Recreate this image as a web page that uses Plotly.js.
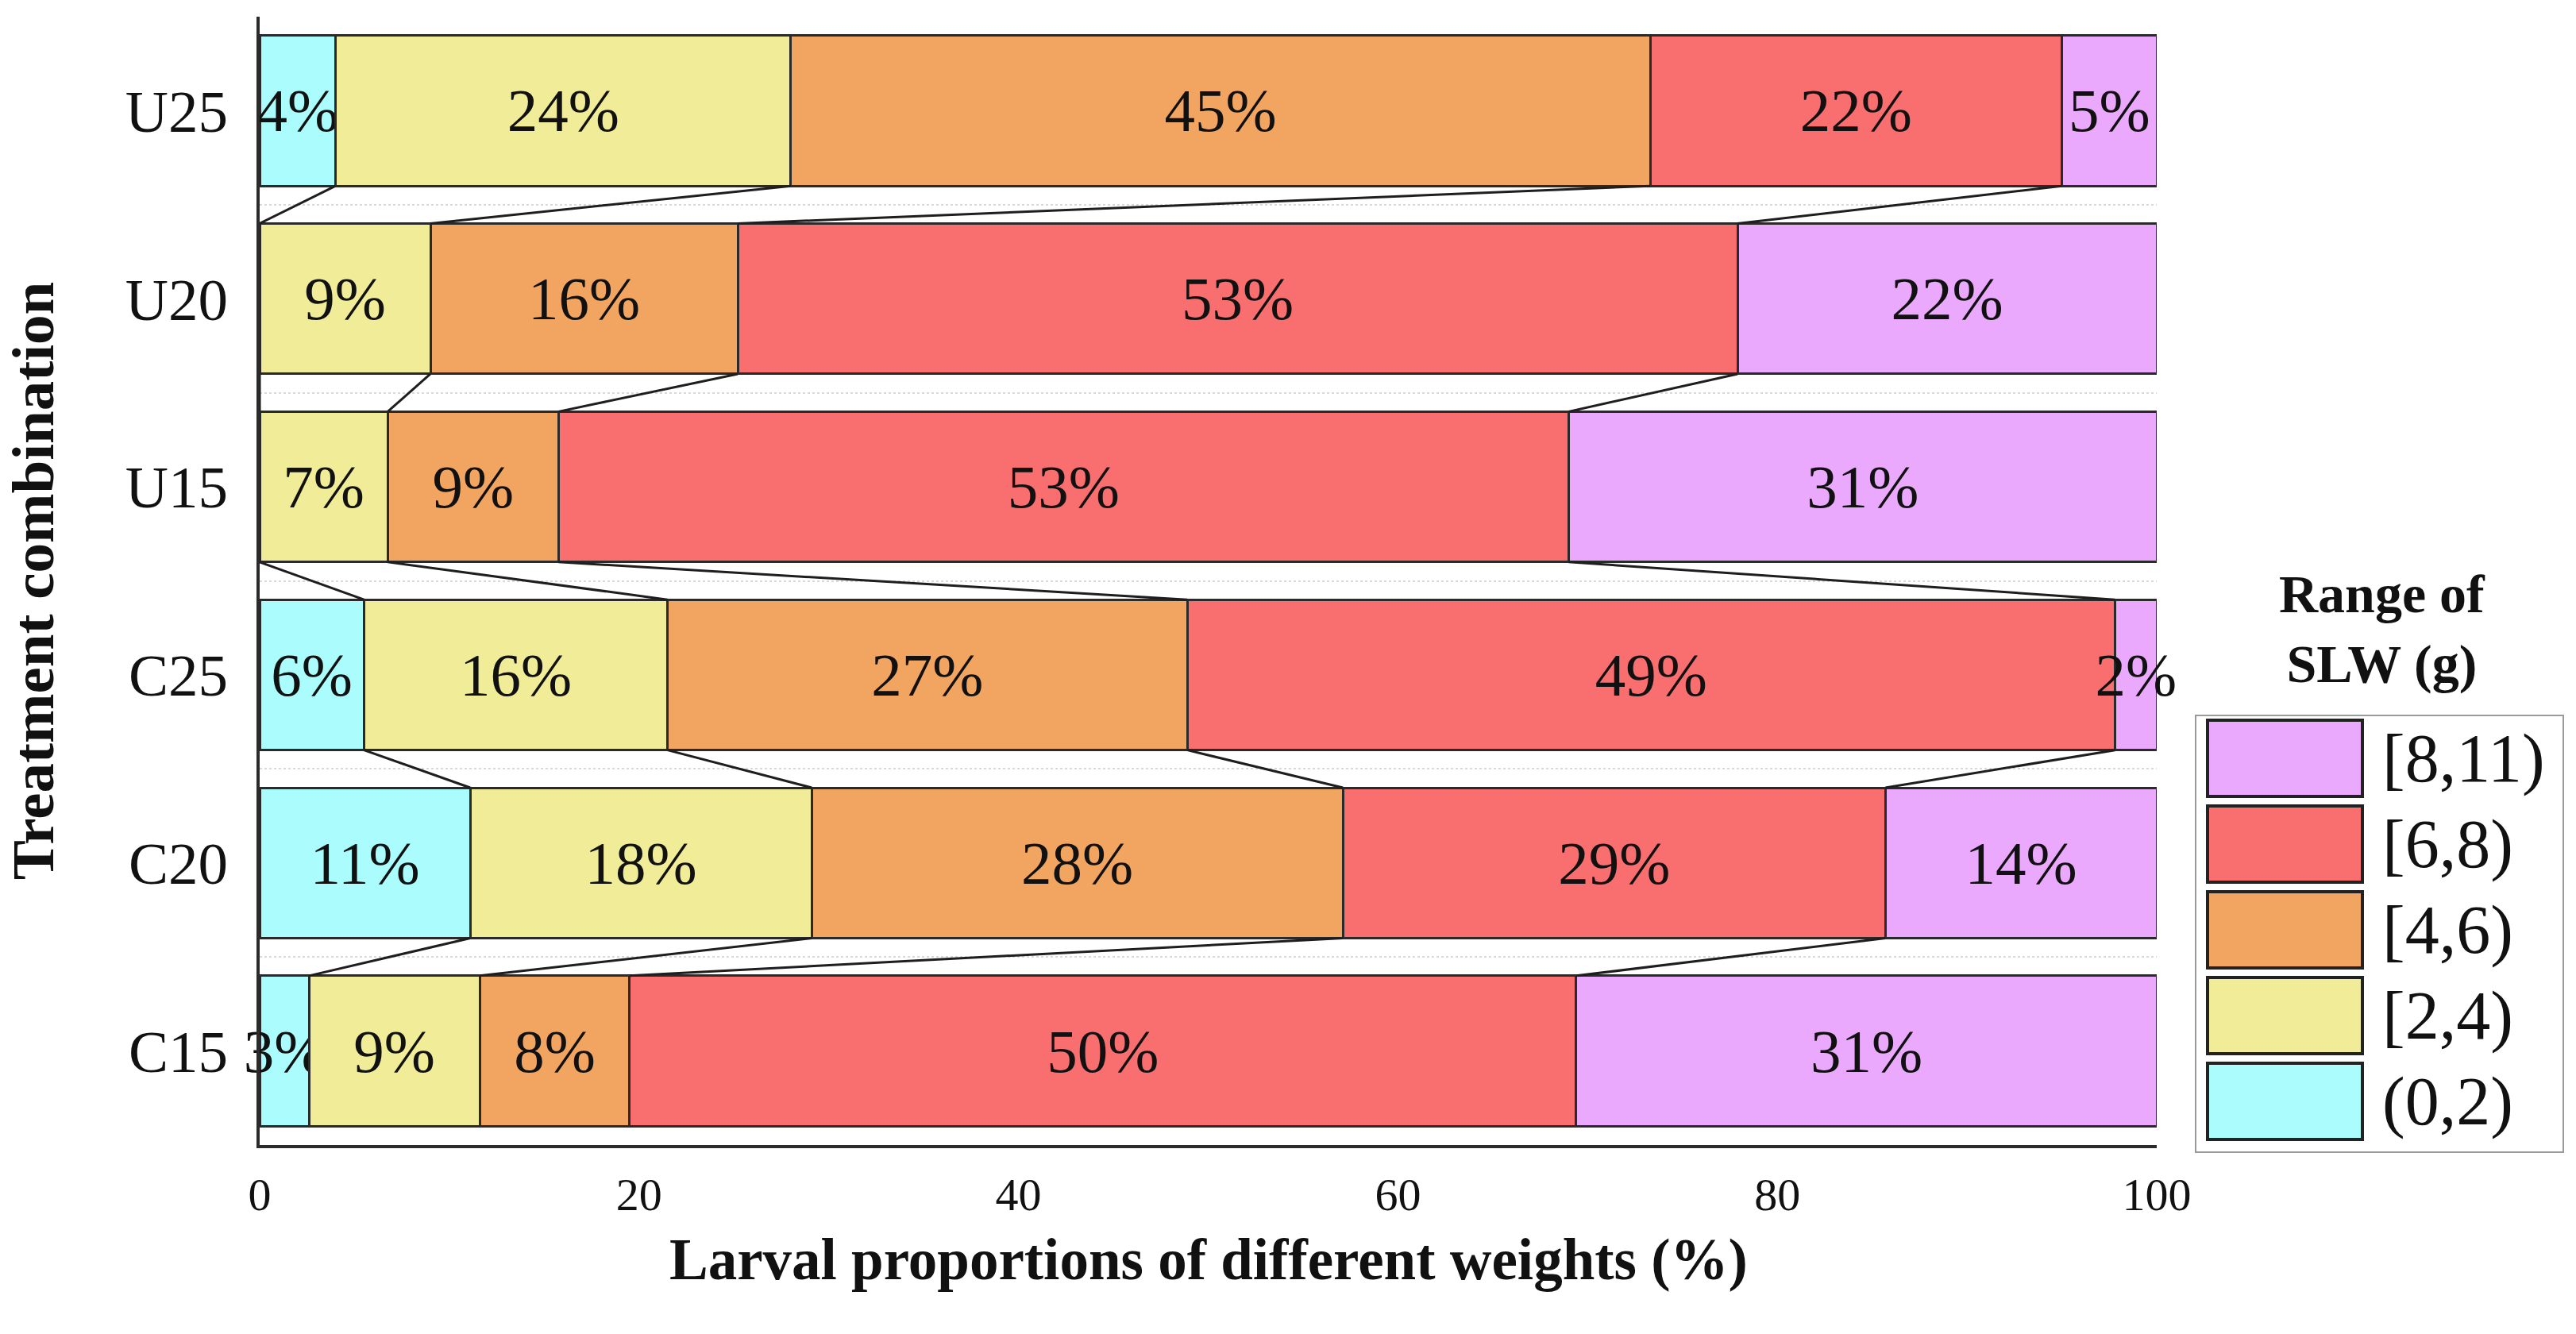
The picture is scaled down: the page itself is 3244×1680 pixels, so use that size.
<!DOCTYPE html>
<html>
<head>
<meta charset="utf-8">
<script src="https://cdn.plot.ly/plotly-3.0.1.min.js"></script>
<style>html,body{margin:0;padding:0;background:#fff;}#chart{width:3244px;height:1680px;}</style>
</head>
<body>
<div id="chart"></div>
<script>
// ---- data (top to bottom) ----
const categories = ['U25', 'U20', 'U15', 'C25', 'C20', 'C15'];
const seriesNames = ['(0,2)', '[2,4)', '[4,6)', '[6,8)', '[8,11)'];
const seriesColors = ['#abfdfd', '#f1ec97', '#f2a461', '#f96e6e', '#eaa9fc'];
const range0to2  = [4.0, 0.0, 0.0, 5.5, 11.1, 2.6];
const range2to4  = [24.0, 9.0, 6.75, 16.0, 18.0, 9.0];
const range4to6  = [45.3, 16.2, 9.0, 27.4, 28.0, 7.9];
const range6to8  = [21.7, 52.7, 53.25, 48.9, 28.6, 49.9];
const range8to11 = [5.0, 22.1, 31.0, 2.2, 14.3, 30.6];
const xTicks = [0, 20, 40, 60, 80, 100];
const xTitle = 'Larval proportions of different weights (%)';
const yTitle = 'Treatment combination';
const legendTitle = 'Range of<br>SLW (g)';

const seriesValues = [range0to2, range2to4, range4to6, range6to8, range8to11];

// ---- style / layout constants ----
const FONT = 'Liberation Serif, Times New Roman, serif';
const W = 3244, H = 1680;
const PL = 327, PR = 2716, PT = 21, PB = 1442;
const barGap = 0.2;
const half = (1 - barGap) / 2;
const px2x = p => (p - PL) / (PR - PL);
const py2y = p => (PB - p) / (PB - PT);

const n = categories.length;
const pos = categories.map((c, i) => n - 1 - i);

const traces = seriesValues.map((vals, s) => ({
  type: 'bar',
  orientation: 'h',
  name: seriesNames[s],
  x: vals,
  y: pos,
  text: vals.map(v => v > 0 ? Math.round(v) + '%' : ''),
  textposition: 'inside',
  insidetextanchor: 'middle',
  textangle: 0,
  constraintext: 'none',
  cliponaxis: false,
  textfont: {family: FONT, size: 77, color: '#111'},
  marker: {color: seriesColors[s], line: {color: '#2a2a2a', width: 3}},
  showlegend: false,
  hoverinfo: 'skip'
}));

// connectors between cumulative boundaries of consecutive bars
const cum = categories.map((c, i) => {
  let acc = 0; const out = [];
  seriesValues.forEach(v => { acc += v[i]; out.push(acc); });
  return out;
});
const cx = [], cy = [];
for (let i = 0; i < n - 1; i++) {
  for (let k = 0; k < seriesValues.length - 1; k++) {
    cx.push(cum[i][k], cum[i + 1][k], null);
    cy.push(pos[i] - half, pos[i + 1] + half, null);
  }
}
traces.push({
  type: 'scatter', mode: 'lines', x: cx, y: cy,
  line: {color: '#1e1e1e', width: 3}, showlegend: false, hoverinfo: 'skip', cliponaxis: false
});

// ---- manual legend (large swatches) ----
const shapes = [];
const annotations = [];
shapes.push({type: 'rect', xref: 'paper', yref: 'paper',
  x0: px2x(2765), x1: px2x(3228), y0: py2y(1451), y1: py2y(901),
  line: {color: '#9a9a9a', width: 2}, fillcolor: 'rgba(0,0,0,0)'});
const order = seriesNames.map((s, i) => i).reverse();
order.forEach((s, j) => {
  const top = 907 + 108 * j, bot = top + 96;
  shapes.push({type: 'rect', xref: 'paper', yref: 'paper',
    x0: px2x(2780), x1: px2x(2975), y0: py2y(bot), y1: py2y(top),
    line: {color: '#222', width: 4}, fillcolor: seriesColors[s]});
  annotations.push({xref: 'paper', yref: 'paper', x: px2x(2998), y: py2y((top + bot) / 2),
    xanchor: 'left', yanchor: 'middle', showarrow: false, text: seriesNames[s],
    font: {family: FONT, size: 86, color: '#111'}});
});
annotations.push({xref: 'paper', yref: 'paper', x: px2x(3000), y: py2y(792),
  xanchor: 'center', yanchor: 'middle', showarrow: false, text: legendTitle,
  font: {family: FONT, size: 68, color: '#111', weight: 'bold'}});
// x-axis title
annotations.push({xref: 'paper', yref: 'paper', x: 0.5, y: py2y(1586),
  xanchor: 'center', yanchor: 'middle', showarrow: false, text: xTitle,
  font: {family: FONT, size: 73, color: '#111', weight: 'bold'}});

const layout = {
  width: W, height: H,
  paper_bgcolor: '#fff', plot_bgcolor: '#fff',
  margin: {l: PL, r: W - PR, t: PT, b: H - PB, pad: 0},
  barmode: 'stack',
  bargap: barGap,
  font: {family: FONT, color: '#111'},
  xaxis: {
    range: [0, 100], tickvals: xTicks, ticktext: xTicks.map(String),
    showline: true, linecolor: '#2b2b2b', linewidth: 4, ticks: '',
    showgrid: false, zeroline: false, fixedrange: true,
    tickfont: {family: FONT, size: 58, color: '#111'}, ticklabelstandoff: 8
  },
  yaxis: {
    range: [-0.5, n - 0.5], tickvals: pos, ticktext: categories,
    showline: true, linecolor: '#2b2b2b', linewidth: 4, ticks: '',
    showgrid: false, zeroline: false, fixedrange: true,
    tickfont: {family: FONT, size: 75, color: '#111'}, ticklabelstandoff: 21,
    minor: {tickvals: pos.slice(1).map(p => p + 0.5), showgrid: true,
      gridcolor: '#d9d9d9', griddash: 'dot', gridwidth: 2, ticks: ''},
    title: {text: yTitle, standoff: 71,
      font: {family: FONT, size: 75, color: '#111', weight: 'bold'}}
  },
  shapes: shapes,
  annotations: annotations
};

Plotly.newPlot('chart', traces, layout, {staticPlot: true, displayModeBar: false});
</script>
</body>
</html>
